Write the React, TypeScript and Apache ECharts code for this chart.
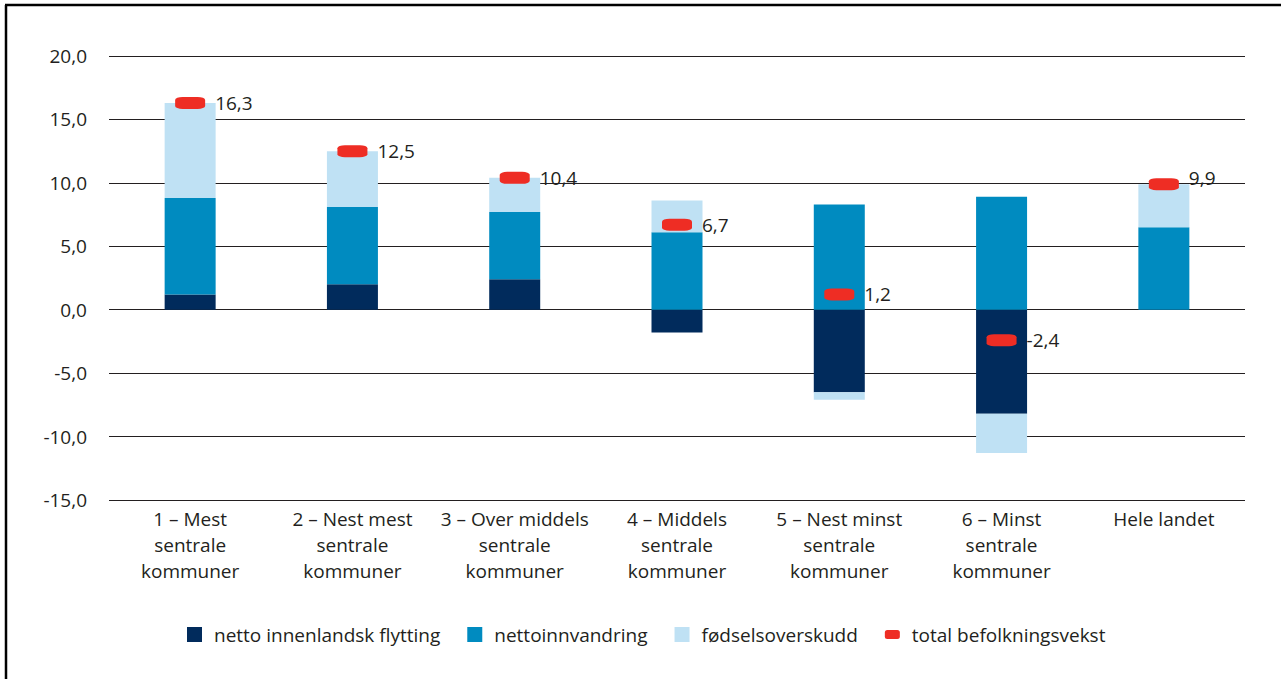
import React, { useEffect, useRef } from "react";
import * as echarts from "echarts";

const categories = [
  "1 – Mest\nsentrale\nkommuner",
  "2 – Nest mest\nsentrale\nkommuner",
  "3 – Over middels\nsentrale\nkommuner",
  "4 – Middels\nsentrale\nkommuner",
  "5 – Nest minst\nsentrale\nkommuner",
  "6 – Minst\nsentrale\nkommuner",
  "Hele landet",
];
const nettoInnenlandsk = [1.2, 2.0, 2.4, -1.8, -6.5, -8.2, 0];
const nettoinnvandring = [7.6, 6.1, 5.3, 6.1, 8.3, 8.9, 6.5];
const fodselsoverskudd = [7.5, 4.4, 2.7, 2.5, -0.6, -3.1, 3.4];
const totalVekst = [16.3, 12.5, 10.4, 6.7, 1.2, -2.4, 9.9];
const yTicks = { min: -15, max: 20, interval: 5 };

const FONT = "'Open Sans', sans-serif";
const TEXT = "#231f20";
const FS = 19;

const fmt = (v: number) => v.toFixed(1).replace(".", ",");

export default function App() {
  const ref = useRef<HTMLDivElement>(null);
  useEffect(() => {
    document.body.style.margin = "0";
    const chart = echarts.init(ref.current!, null, { renderer: "svg" });
    chart.setOption({
      animation: false,
      backgroundColor: "#ffffff",
      textStyle: { fontFamily: FONT, color: TEXT },
      grid: { left: 109, right: 36, top: 56, bottom: 179 },
      graphic: [
        { type: "line", shape: { x1: 5, y1: 5, x2: 1281, y2: 5 }, style: { stroke: "#000", lineWidth: 2.5 } },
        { type: "line", shape: { x1: 6, y1: 5, x2: 6, y2: 679 }, style: { stroke: "#000", lineWidth: 2.5 } },
      ],
      legend: {
        top: 620,
        left: 182,
        itemWidth: 15,
        itemHeight: 15,
        itemGap: 27,
        textStyle: { fontFamily: FONT, fontSize: FS, color: TEXT, padding: [0, 0, 0, 7] },
        data: [
          { name: "netto innenlandsk flytting", icon: "rect" },
          { name: "nettoinnvandring", icon: "rect" },
          { name: "fødselsoverskudd", icon: "rect" },
          {
            name: "total befolkningsvekst",
            icon: "path://M3,0 L15,0 Q18,0 18,3 L18,8 Q18,11 15,11 L3,11 Q0,11 0,8 L0,3 Q0,0 3,0 Z",
          },
        ],
      },
      xAxis: {
        type: "category",
        data: categories,
        position: "bottom",
        axisLine: { show: false },
        axisTick: { show: false },
        axisLabel: {
          interval: 0,
          margin: 6,
          fontFamily: FONT,
          fontSize: FS,
          lineHeight: 26,
          color: TEXT,
        },
      },
      yAxis: {
        type: "value",
        min: yTicks.min,
        max: yTicks.max,
        interval: yTicks.interval,
        axisLine: { show: false },
        axisTick: { show: false },
        axisLabel: {
          margin: 22,
          fontFamily: FONT,
          fontSize: FS,
          color: TEXT,
          formatter: (v: number) => fmt(v),
        },
        splitLine: { lineStyle: { color: "#231f20", width: 1 } },
      },
      series: [
        {
          name: "netto innenlandsk flytting",
          type: "bar",
          stack: "s",
          barWidth: 51,
          itemStyle: { color: "#012b5c" },
          data: nettoInnenlandsk,
        },
        {
          name: "nettoinnvandring",
          type: "bar",
          stack: "s",
          barWidth: 51,
          itemStyle: { color: "#008bc0" },
          data: nettoinnvandring,
        },
        {
          name: "fødselsoverskudd",
          type: "bar",
          stack: "s",
          barWidth: 51,
          itemStyle: { color: "#bfe1f4" },
          data: fodselsoverskudd,
        },
        {
          name: "total befolkningsvekst",
          type: "scatter",
          symbol: "roundRect",
          symbolSize: [30, 12],
          itemStyle: { color: "#ee2d24", opacity: 1 },
          z: 5,
          label: {
            show: true,
            position: "right",
            distance: 10,
            fontFamily: FONT,
            fontSize: FS,
            color: TEXT,
            formatter: (p: any) => fmt(p.value),
          },
          data: totalVekst.map((v, i) =>
            i === totalVekst.length - 1 ? { value: v, label: { offset: [0, -6] } } : v
          ),
        },
      ],
    });
    return () => chart.dispose();
  }, []);
  return <div ref={ref} style={{ width: 1281, height: 679 }} />;
}
